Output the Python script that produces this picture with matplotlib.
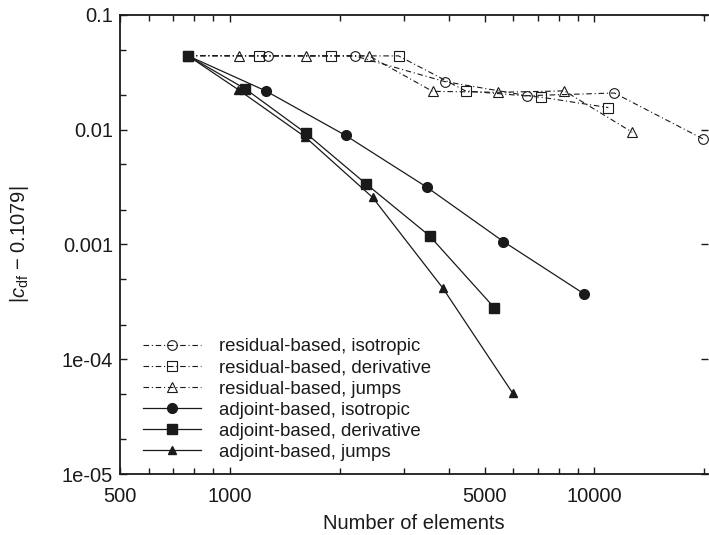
import numpy as np
import matplotlib
matplotlib.use("Agg")
import matplotlib.pyplot as plt
from matplotlib.ticker import FixedLocator, NullFormatter, LogLocator

# Estilo geral
plt.rcParams["font.family"] = ["Liberation Sans", "DejaVu Sans"]
plt.rcParams["mathtext.fontset"] = "custom"
plt.rcParams["mathtext.rm"] = "Liberation Sans"
plt.rcParams["mathtext.it"] = "Liberation Sans:italic"

# Dados - número de elementos x erro |c_df - 0.1079|
res_iso_n = [767, 1271, 2200, 3882, 6553, 11344, 19891]
res_iso_e = [0.0442, 0.0440, 0.0440, 0.0263, 0.0198, 0.0209, 0.0083]

res_der_n = [767, 1201, 1891, 2904, 4432, 7158, 10925]
res_der_e = [0.0442, 0.0440, 0.0440, 0.0440, 0.0218, 0.0192, 0.0156]

res_jmp_n = [767, 1058, 1615, 2411, 3599, 5458, 8277, 12708]
res_jmp_e = [0.0442, 0.0440, 0.0440, 0.0440, 0.0216, 0.0212, 0.0218, 0.0095]

adj_iso_n = [767, 1255, 2079, 3465, 5633, 9389]
adj_iso_e = [0.0442, 0.0218, 0.00891, 0.00317, 0.00106, 0.00037]

adj_der_n = [767, 1103, 1615, 2358, 3531, 5321]
adj_der_e = [0.0442, 0.0227, 0.00937, 0.00340, 0.00119, 0.00028]

adj_jmp_n = [767, 1054, 1610, 2465, 3834, 5974]
adj_jmp_e = [0.0442, 0.0224, 0.00865, 0.00257, 0.00042, 5.05e-5]

x_ticks = [500, 1000, 5000, 10000]
x_ticklabels = ["500", "1000", "5000", "10000"]
y_ticks = [1e-5, 1e-4, 1e-3, 1e-2, 1e-1]
y_ticklabels = ["1e-05", "1e-04", "0.001", "0.01", "0.1"]

cor = "#1a1a1a"
tracejado = (0, (5, 2.5, 1, 2.5))  # traço-ponto

fig = plt.figure(figsize=(7.09, 5.35), dpi=100)
ax = fig.add_axes([0.1693, 0.1140, 0.8293, 0.8580])

# Curvas residual-based (marcadores vazados, traço-ponto)
ax.plot(res_iso_n, res_iso_e, color=cor, lw=0.8, ls=tracejado, marker="o",
        ms=7, mfc="none", mew=0.8, label="residual-based, isotropic")
ax.plot(res_der_n, res_der_e, color=cor, lw=0.8, ls=tracejado, marker="s",
        ms=7, mfc="none", mew=0.8, label="residual-based, derivative")
ax.plot(res_jmp_n, res_jmp_e, color=cor, lw=0.8, ls=tracejado, marker="^",
        ms=7, mfc="none", mew=0.8, label="residual-based, jumps")

# Curvas adjoint-based (marcadores cheios, linha contínua)
ax.plot(adj_iso_n, adj_iso_e, color=cor, lw=0.9, ls="-", marker="o",
        ms=7, label="adjoint-based, isotropic")
ax.plot(adj_der_n, adj_der_e, color=cor, lw=0.9, ls="-", marker="s",
        ms=7.5, label="adjoint-based, derivative")
ax.plot(adj_jmp_n, adj_jmp_e, color=cor, lw=0.9, ls="-", marker="^",
        ms=6, label="adjoint-based, jumps")

ax.set_xscale("log")
ax.set_yscale("log")
ax.set_xlim(500, 20500)
ax.set_ylim(1e-5, 0.1)

# Ticks
ax.xaxis.set_major_locator(FixedLocator(x_ticks))
ax.set_xticklabels(x_ticklabels)
ax.xaxis.set_minor_locator(LogLocator(base=10, subs=np.arange(2, 10)))
ax.xaxis.set_minor_formatter(NullFormatter())
ax.yaxis.set_major_locator(FixedLocator(y_ticks))
ax.set_yticklabels(y_ticklabels)
ax.yaxis.set_minor_locator(LogLocator(base=10, subs=[2, 5]))
ax.yaxis.set_minor_formatter(NullFormatter())

ax.tick_params(which="both", direction="in", top=True, right=False,
               labelsize=14.5, width=1, color=cor, labelcolor=cor)
ax.tick_params(which="major", length=5)
ax.tick_params(which="minor", length=4)
ax.tick_params(axis="x", pad=9)
ax.tick_params(axis="y", pad=5)

# Ticks do lado direito (apenas os principais)
ax_r = ax.secondary_yaxis("right")
ax_r.yaxis.set_major_locator(FixedLocator(y_ticks))
ax_r.yaxis.set_minor_locator(FixedLocator([]))
ax_r.tick_params(direction="in", length=5, width=1, labelright=False, color=cor)
ax_r.spines["right"].set_visible(False)
ax.spines["right"].set_visible(False)

for s in ax.spines.values():
    s.set_linewidth(1.3)
    s.set_color(cor)

ax.set_xlabel("Number of elements", fontsize=14.5, color=cor, labelpad=6)
ax.set_ylabel(r"|$c_{\rm df}$ $-$ 0.1079|", fontsize=14.5, color=cor, labelpad=22)

leg = ax.legend(loc="lower left", bbox_to_anchor=(0.014, -0.004), frameon=False,
                fontsize=13.4, handlelength=3.1, handletextpad=1.0,
                labelspacing=0.22, borderaxespad=0.4)
for t in leg.get_texts():
    t.set_color(cor)

fig.savefig("out.png", dpi=100)
